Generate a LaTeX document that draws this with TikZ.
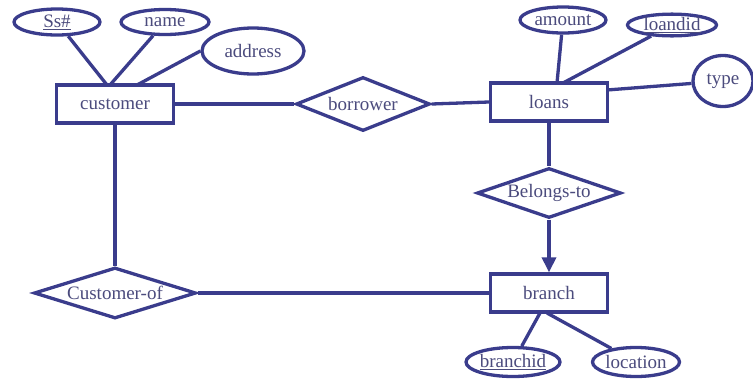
\documentclass[tikz,border=0pt]{standalone}
\usepackage{fontspec}
\setmainfont{Liberation Serif}
\usetikzlibrary{shapes.geometric,arrows.meta}
\definecolor{erline}{RGB}{58,60,140}
\definecolor{ertext}{RGB}{75,75,125}
\begin{document}
\begin{tikzpicture}[x=1pt,y=-1pt,
  every node/.style={font=\fontsize{19}{22}\selectfont,text=ertext},
  ent/.style={draw=erline,line width=3.3pt,rectangle,minimum width=117pt,minimum height=38pt,inner sep=0pt},
  attr/.style={draw=erline,line width=3.3pt,ellipse,inner sep=0pt},
  rel/.style={draw=erline,line width=3.3pt,diamond,aspect=2.8,inner sep=0pt},
  conn/.style={draw=erline,line width=3.3pt}]
\useasboundingbox[fill=white] (0,0) rectangle (753,378);
% entities
\node[ent] (customer) at (115,104) {customer};
\node[ent] (loans) at (549,102) {loans};
\node[ent] (branch) at (549,293) {branch};
% relationships
\node[rel,minimum width=134pt,minimum height=54pt] (borrower) at (363,104) {borrower};
\node[rel,minimum width=144pt,minimum height=50pt] (belongs) at (549,193) {Belongs-to};
\node[rel,minimum width=162pt,minimum height=51pt] (custof) at (115,293) {Customer-of};
% attributes
\node[attr,minimum width=86pt,minimum height=26pt] (ss) at (57,22) {\underline{Ss\#}};
\node[attr,minimum width=88pt,minimum height=25pt] (name) at (165,22) {name};
\node[attr,minimum width=102pt,minimum height=46pt] (address) at (253,51) {address};
\node[attr,minimum width=86pt,minimum height=26pt] (amount) at (563,20) {amount};
\node[attr,minimum width=89pt,minimum height=21pt] (loanid) at (672,25) {\underline{loandid}};
\node[attr,minimum width=60pt,minimum height=51pt] (type) at (723,81) {type};
\node[attr,minimum width=89pt,minimum height=29pt] (branchid) at (513,362) {\underline{branchid}};
\node[attr,minimum width=87pt,minimum height=29pt] (location) at (636,362) {location};
% connectors
\coordinate (c1) at (107,85);
\coordinate (c2) at (110,85);
\coordinate (c3) at (137,85);
\draw[conn] (ss) -- (c1);
\draw[conn] (name) -- (c2);
\draw[conn] (address.west) -- (c3);
\draw[conn] (customer.east) -- (borrower.west);
\draw[conn] (borrower.east) -- (loans.west);
\coordinate (l1) at (557,83);
\coordinate (l2) at (563,83);
\coordinate (l3) at (607,90);
\draw[conn] (amount) -- (l1);
\draw[conn] (loanid) -- (l2);
\draw[conn] (type) -- (l3);
\draw[conn] (loans.south) -- (belongs.north);
\draw[conn,-{Triangle[length=15pt,width=14pt]}] (belongs.south) -- (branch.north);
\draw[conn] (customer.south) -- (custof.north);
\draw[conn] (custof.east) -- (branch.west);
\coordinate (b1) at (540,313);
\coordinate (b2) at (547,313);
\draw[conn] (branchid) -- (b1);
\draw[conn] (location) -- (b2);
\end{tikzpicture}
\end{document}
